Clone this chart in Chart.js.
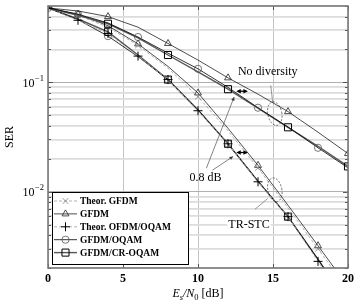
<!DOCTYPE html>
<html>
<head>
<meta charset="utf-8">
<script src="https://cdn.jsdelivr.net/npm/chart.js@4.4.1/dist/chart.umd.min.js"></script>
<style>
html,body{margin:0;padding:0;background:#fff;}
#wrap{width:358px;height:306px;position:relative;}
</style>
</head>
<body>
<div id="wrap"><canvas id="c" width="358" height="306"></canvas></div>
<script>
// ---- data ----
const snr = [0, 2, 4, 6, 8, 10, 12, 14, 16, 18, 20];
const legendLabels = ['Theor. GFDM', 'GFDM', 'Theor. OFDM/OQAM', 'GFDM/OQAM', 'GFDM/CR-OQAM'];
const xTicks = [0, 5, 10, 15, 20];
const yTickLabels = [{v: 0.1, e: '\u22121'}, {v: 0.01, e: '\u22122'}];
const yGrid = [0.002,0.003,0.004,0.005,0.006,0.007,0.008,0.009,0.01,0.02,0.03,0.04,0.05,0.06,0.07,0.08,0.09,0.1,0.2,0.3,0.4,0.5];

// No diversity
const gfdmND = [0.48, 0.45, 0.40, 0.32, 0.227, 0.16, 0.11, 0.078, 0.054, 0.035, 0.0223];
const oqamND = [0.48, 0.42, 0.35, 0.26, 0.185, 0.133, 0.09, 0.0586, 0.039, 0.0252, 0.0165];
const crND   = [0.48, 0.41, 0.344, 0.255, 0.178, 0.125, 0.0866, 0.058, 0.0388, 0.026, 0.017];
// TR-STC
const thGfdmTR = [0.48, 0.41, 0.32, 0.218, 0.135, 0.074, 0.036, 0.0165, 0.0071, 0.003, 0.00125];
const gfdmTR   = [0.48, 0.42, 0.33, 0.225, 0.14, 0.08, 0.038, 0.0174, 0.0075, 0.0032, 0.00135];
const thOqamTR = [0.48, 0.37, 0.28, 0.174, 0.106, 0.055, 0.0274, 0.0123, 0.0059, 0.0023, 0.0009];
const oqamTR   = [0.48, 0.375, 0.265, 0.172, 0.106, 0.056, 0.0274, 0.0125, 0.0059, 0.0024, 0.00095];
const crTR     = [0.48, 0.38, 0.29, 0.178, 0.106, 0.056, 0.0274, 0.0124, 0.0059, 0.0024, 0.00095];

// ---- styles (legend order) ----
const styles = [
  {line:'#a8a8a8', width:0.9, dash:[3,2], mark:'crossRot', mcol:'#8a8a8a', r:4, mw:0.9},
  {line:'#000000', width:0.7, dash:[], mark:'triangle', mcol:'#222', r:4, mw:0.8},
  {line:'#a8a8a8', width:0.9, dash:[3,2], mark:'cross', mcol:'#000', r:4.5, mw:1},
  {line:'#000000', width:0.8, dash:[], mark:'circle', mcol:'#555', r:3.6, mw:0.8},
  {line:'#555555', width:1.4, dash:[], mark:'rect', mcol:'#000', r:5, mw:1}
];
const evenIdx = i => i % 2 === 0 && i > 0;
const evenIdx0 = i => i % 2 === 0;
const oddIdx = i => i % 2 === 1;
const allIdx = i => i < 10;

const series = [
  {vals: gfdmND, s: 1, m: evenIdx},
  {vals: oqamND, s: 3, m: oddIdx},
  {vals: crND,   s: 4, m: evenIdx},
  {vals: thGfdmTR, s: 0, m: oddIdx},
  {vals: gfdmTR,   s: 1, m: oddIdx},
  {vals: thOqamTR, s: 2, m: allIdx},
  {vals: oqamTR,   s: 3, m: evenIdx0},
  {vals: crTR,     s: 4, m: evenIdx}
];

const datasets = series.map(d => {
  const st = styles[d.s];
  return {
    data: snr.map((x, i) => ({x: x, y: d.vals[i]})),
    borderColor: st.line,
    borderWidth: st.width,
    borderDash: st.dash,
    pointStyle: st.mark,
    pointRadius: snr.map((x, i) => d.m(i) ? st.r : 0),
    pointBorderColor: st.mcol,
    pointBackgroundColor: 'rgba(0,0,0,0)',
    pointBorderWidth: st.mw,
    tension: 0,
    fill: false
  };
});

const SERIF = '"Liberation Serif", "DejaVu Serif", serif';

function legendMark(ctx, st, x, y) {
  const r = st.r;
  ctx.beginPath();
  if (st.mark === 'circle') { ctx.arc(x, y, r, 0, Math.PI * 2); }
  else if (st.mark === 'rect') { const h = r * Math.SQRT1_2; ctx.rect(x - h, y - h, 2 * h, 2 * h); }
  else if (st.mark === 'triangle') {
    const side = 3 * r / Math.sqrt(3), hgt = side * Math.sqrt(3) / 2, off = hgt / 3;
    ctx.moveTo(x - side / 2, y + off); ctx.lineTo(x + side / 2, y + off); ctx.lineTo(x, y - 2 * off); ctx.closePath();
  } else if (st.mark === 'cross') { ctx.moveTo(x, y - r); ctx.lineTo(x, y + r); ctx.moveTo(x - r, y); ctx.lineTo(x + r, y); }
  else if (st.mark === 'crossRot') { const h = r * Math.SQRT1_2; ctx.moveTo(x - h, y - h); ctx.lineTo(x + h, y + h); ctx.moveTo(x - h, y + h); ctx.lineTo(x + h, y - h); }
  ctx.stroke();
}

const deco = {
  id: 'deco',
  afterDatasetsDraw(chart) {
    const ctx = chart.ctx, a = chart.chartArea;
    const X = v => chart.scales.x.getPixelForValue(v);
    const Y = v => chart.scales.y.getPixelForValue(v);
    ctx.save();

    // minor/major ticks on left & right
    ctx.strokeStyle = '#333'; ctx.lineWidth = 0.8;
    yGrid.forEach(v => {
      const major = (v === 0.1 || v === 0.01);
      const L = major ? 5 : 3; const y = Math.round(Y(v)) + 0.5;
      ctx.beginPath(); ctx.moveTo(a.left, y); ctx.lineTo(a.left + L, y);
      ctx.moveTo(a.right, y); ctx.lineTo(a.right - L, y); ctx.stroke();
    });
    xTicks.forEach(v => {
      const x = Math.round(X(v)) + 0.5;
      ctx.beginPath(); ctx.moveTo(x, a.bottom); ctx.lineTo(x, a.bottom - 4);
      ctx.moveTo(x, a.top); ctx.lineTo(x, a.top + 4); ctx.stroke();
    });

    // frame
    ctx.strokeStyle = '#7a7a7a'; ctx.lineWidth = 1.6;
    ctx.strokeRect(a.left, a.top, a.right - a.left, a.bottom - a.top);

    // annotations
    function text(str, x, y, font, bg) {
      ctx.font = font; ctx.textAlign = 'center'; ctx.textBaseline = 'middle';
      if (bg) {
        const w = ctx.measureText(str).width;
        ctx.fillStyle = '#fff'; ctx.fillRect(x - w/2 - 1, y - 6, w + 2, 12);
      }
      ctx.fillStyle = '#000'; ctx.fillText(str, x, y);
    }
    function head(x1, y1, x2, y2, s) {
      const ang = Math.atan2(y2 - y1, x2 - x1);
      ctx.beginPath();
      ctx.moveTo(x2, y2);
      ctx.lineTo(x2 - s * Math.cos(ang - 0.45), y2 - s * Math.sin(ang - 0.45));
      ctx.lineTo(x2 - s * Math.cos(ang + 0.45), y2 - s * Math.sin(ang + 0.45));
      ctx.closePath(); ctx.fill();
    }
    function seg(x1, y1, x2, y2, col, w, arrow) {
      ctx.strokeStyle = col; ctx.fillStyle = col; ctx.lineWidth = w; ctx.setLineDash([]);
      ctx.beginPath(); ctx.moveTo(x1, y1); ctx.lineTo(x2, y2); ctx.stroke();
      if (arrow) head(x1, y1, x2, y2, arrow);
    }
    function dbl(x1, x2, y) {
      seg(x1 + 2, y, x2 - 2, y, '#000', 1.3, 0);
      ctx.fillStyle = '#000';
      head(x2 - 6, y, x2, y, 5); head(x1 + 6, y, x1, y, 5);
    }
    function ell(x, y, rx, ry) {
      ctx.strokeStyle = '#333'; ctx.lineWidth = 0.7; ctx.setLineDash([2, 1.5]);
      ctx.beginPath(); ctx.ellipse(x, y, rx, ry, -0.2, 0, Math.PI * 2); ctx.stroke();
      ctx.setLineDash([]);
    }

    // No diversity
    text('No diversity', X(14.65), Y(0.125), '12px ' + SERIF, false);
    seg(X(14.85), Y(0.094), X(14.98), Y(0.065), '#555', 0.6, 0);
    ell(X(15.12), Y(0.0518), 7, 12);
    // TR-STC
    ell(X(15.12), Y(0.0104), 7, 12);
    seg(X(13.8), Y(0.0069), X(14.65), Y(0.00866), '#555', 0.6, 0);
    text('TR-STC', X(13.4), Y(0.00497), '12px ' + SERIF, true);
    // 0.8 dB
    text('0.8 dB', X(10.5), Y(0.0133), '12px ' + SERIF, false);
    seg(X(10.56), Y(0.0164), X(12.41), Y(0.0735), '#333', 0.6, 4);
    seg(X(10.96), Y(0.0157), X(12.34), Y(0.021), '#333', 0.6, 4);
    dbl(X(12.55), X(13.33), Y(0.083));
    dbl(X(12.55), X(13.33), Y(0.0228));

    // y tick labels with superscripts
    ctx.fillStyle = '#000'; ctx.textBaseline = 'middle';
    yTickLabels.forEach(t => {
      const y = Y(t.v);
      ctx.font = '8.5px ' + SERIF; ctx.textAlign = 'right';
      const ew = ctx.measureText(t.e).width;
      ctx.fillText(t.e, a.left - 4, y - 4);
      ctx.font = '12px ' + SERIF;
      ctx.fillText('10', a.left - 4 - ew - 0.5, y + 1);
    });

    // y title
    ctx.save();
    ctx.translate(10, (a.top + a.bottom) / 2);
    ctx.rotate(-Math.PI / 2);
    ctx.font = '12px ' + SERIF; ctx.textAlign = 'center'; ctx.textBaseline = 'middle';
    ctx.fillText('SER', 0, 0);
    ctx.restore();

    // x title: E_s/N_0 [dB]
    {
      const parts = [
        {t: 'E', f: 'italic 12px ' + SERIF, dy: 0},
        {t: 's', f: 'italic 8.5px ' + SERIF, dy: 3},
        {t: '/N', f: 'italic 12px ' + SERIF, dy: 0},
        {t: '0', f: '8.5px ' + SERIF, dy: 3},
        {t: ' [dB]', f: '12px ' + SERIF, dy: 0}
      ];
      let tw = 0;
      parts.forEach(p => { ctx.font = p.f; p.w = ctx.measureText(p.t).width; tw += p.w; });
      let x = (a.left + a.right) / 2 - tw / 2;
      const yb = 297;
      ctx.textAlign = 'left'; ctx.textBaseline = 'alphabetic';
      parts.forEach(p => { ctx.font = p.f; ctx.fillText(p.t, x, yb + p.dy); x += p.w; });
    }

    // legend
    const lx = 52, ly = 192, lw = 136, lh = 72;
    ctx.fillStyle = '#fff'; ctx.fillRect(lx, ly, lw, lh);
    ctx.strokeStyle = '#000'; ctx.lineWidth = 1; ctx.setLineDash([]);
    ctx.strokeRect(lx + 0.5, ly + 0.5, lw, lh);
    legendLabels.forEach((lab, i) => {
      const st = styles[i];
      const y = ly + 9 + i * 12.9;
      ctx.strokeStyle = st.line; ctx.lineWidth = st.width; ctx.setLineDash(st.dash);
      ctx.beginPath(); ctx.moveTo(lx + 2, y); ctx.lineTo(lx + 25, y); ctx.stroke();
      ctx.setLineDash([]);
      ctx.strokeStyle = st.mcol; ctx.lineWidth = st.mw;
      legendMark(ctx, st, lx + 13.5, y);
      ctx.fillStyle = '#000'; ctx.font = 'bold 9.5px ' + SERIF;
      ctx.textAlign = 'left'; ctx.textBaseline = 'middle';
      ctx.fillText(lab, lx + 28, y + 0.5);
    });

    ctx.restore();
  }
};

new Chart(document.getElementById('c'), {
  type: 'line',
  data: {datasets: datasets},
  plugins: [deco],
  options: {
    responsive: false,
    animation: false,
    events: [],
    layout: {padding: {top: 4, right: 7, left: 0, bottom: 0}},
    plugins: {legend: {display: false}, tooltip: {enabled: false}, title: {display: false}},
    scales: {
      x: {
        type: 'linear', min: 0, max: 20,
        afterBuildTicks: s => { s.ticks = xTicks.map(v => ({value: v})); },
        ticks: {color: '#000', font: {family: SERIF, size: 12, weight: 'bold'}, padding: 4, maxRotation: 0},
        grid: {color: '#c4c4c4', lineWidth: 1, drawTicks: false},
        border: {display: false},
        afterFit: s => { s.height = 38; }
      },
      y: {
        type: 'logarithmic', min: 0.002, max: 0.5,
        afterBuildTicks: s => { s.ticks = yGrid.map(v => ({value: v})); },
        ticks: {display: false},
        grid: {
          color: c => (c.tick && (c.tick.value === 0.1 || c.tick.value === 0.01)) ? '#b0b0b0' : '#dcdcdc',
          lineWidth: c => (c.tick && (c.tick.value === 0.1 || c.tick.value === 0.01)) ? 1 : 1.8,
          drawTicks: false
        },
        border: {display: false},
        afterFit: s => { s.width = 48; }
      }
    }
  }
});
</script>
</body>
</html>
